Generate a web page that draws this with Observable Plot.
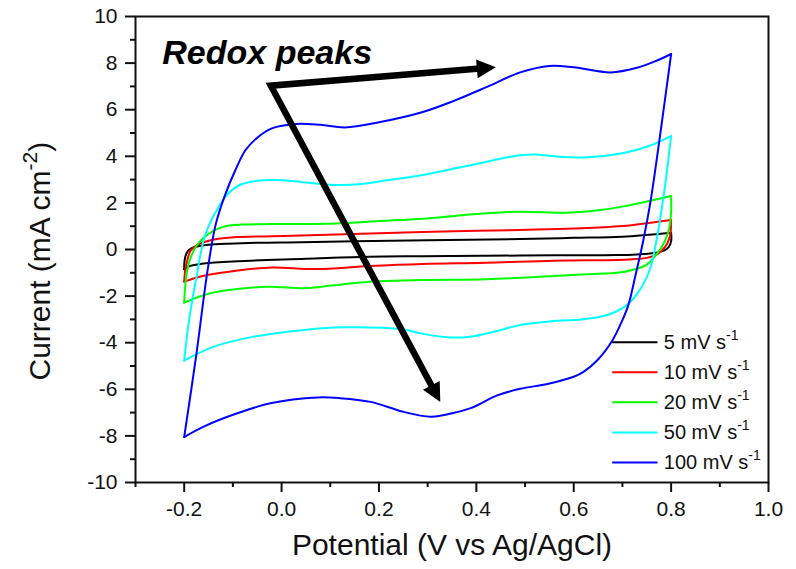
<!DOCTYPE html>
<html><head><meta charset="utf-8">
<script src="https://cdn.jsdelivr.net/npm/d3@7"></script>
<script src="https://cdn.jsdelivr.net/npm/@observablehq/plot@0.6"></script>
<style>body{margin:0;background:#fff}</style>
</head><body><div id="chart"></div>
<script>
// ---- data (potential V, current mA cm^-2) ----
const scanRates = ["5 mV s^-1", "10 mV s^-1", "20 mV s^-1", "50 mV s^-1", "100 mV s^-1"];
const colors = ["#000000", "#ff0000", "#00ff00", "#00ffff", "#0000ff"];

const fwd5 = [[-0.2,-0.85],[-0.199,-0.45],[-0.195,-0.15],[-0.188,0.02],[-0.173,0.13],[-0.15,0.2],[-0.11,0.25],[-0.05,0.29],[0.04,0.31],[0.15,0.35],[0.3,0.4],[0.49,0.45],[0.6,0.5],[0.7,0.55],[0.8,0.72]];
const rev5 = [[0.8,0.72],[0.8,0.35],[0.795,0.1],[0.785,-0.05],[0.765,-0.15],[0.73,-0.21],[0.69,-0.24],[0.56,-0.25],[0.42,-0.27],[0.29,-0.29],[0.18,-0.31],[0.05,-0.4],[-0.09,-0.5],[-0.16,-0.6],[-0.19,-0.72],[-0.2,-0.85]];

const fwd10 = [[-0.2,-1.38],[-0.198,-0.9],[-0.194,-0.5],[-0.187,-0.05],[-0.175,0.17],[-0.155,0.34],[-0.13,0.46],[-0.098,0.53],[-0.02,0.57],[0.04,0.6],[0.2,0.7],[0.31,0.76],[0.49,0.84],[0.6,0.9],[0.7,1.01],[0.8,1.27]];
const rev10 = [[0.8,1.27],[0.799,0.75],[0.795,0.4],[0.788,0.12],[0.772,-0.2],[0.75,-0.36],[0.72,-0.42],[0.69,-0.45],[0.56,-0.48],[0.42,-0.57],[0.29,-0.62],[0.18,-0.71],[0.07,-0.84],[-0.02,-0.77],[-0.09,-0.9],[-0.16,-1.13],[-0.2,-1.38]];

const fwd20 = [[-0.2,-2.28],[-0.198,-1.6],[-0.194,-0.9],[-0.186,-0.3],[-0.175,0.15],[-0.16,0.5],[-0.14,0.8],[-0.115,1.0],[-0.08,1.07],[-0.02,1.09],[0.11,1.12],[0.2,1.22],[0.29,1.32],[0.36,1.45],[0.42,1.56],[0.49,1.62],[0.59,1.58],[0.65,1.68],[0.7,1.84],[0.8,2.3]];
const rev20 = [[0.8,2.3],[0.8,1.6],[0.796,0.9],[0.786,0.3],[0.772,-0.16],[0.75,-0.65],[0.72,-0.88],[0.69,-1.0],[0.63,-1.06],[0.56,-1.14],[0.42,-1.28],[0.29,-1.31],[0.18,-1.38],[0.1,-1.55],[0.05,-1.66],[-0.03,-1.6],[-0.1,-1.72],[-0.15,-1.9],[-0.2,-2.28]];

const fwd50 = [[-0.2,-4.77],[-0.19,-3.03],[-0.175,-1.2],[-0.16,0.41],[-0.148,1.1],[-0.13,1.8],[-0.112,2.35],[-0.085,2.78],[-0.05,2.95],[-0.01,2.98],[0.04,2.9],[0.1,2.78],[0.16,2.8],[0.22,2.98],[0.29,3.2],[0.39,3.63],[0.49,4.05],[0.52,4.08],[0.57,3.98],[0.63,3.96],[0.7,4.13],[0.75,4.41],[0.8,4.87]];
const rev50 = [[0.8,4.87],[0.786,2.5],[0.77,0.4],[0.756,-0.88],[0.731,-1.88],[0.704,-2.46],[0.669,-2.81],[0.615,-3.0],[0.56,-3.07],[0.49,-3.24],[0.436,-3.53],[0.388,-3.74],[0.341,-3.77],[0.286,-3.6],[0.25,-3.43],[0.128,-3.34],[0.046,-3.45],[-0.057,-3.74],[-0.139,-4.17],[-0.2,-4.77]];

const fwd100 = [[-0.2,-8.05],[-0.175,-4.5],[-0.152,-0.9],[-0.135,1.1],[-0.115,2.4],[-0.095,3.4],[-0.074,4.27],[-0.05,4.8],[-0.02,5.2],[0.03,5.39],[0.08,5.35],[0.13,5.24],[0.2,5.46],[0.29,5.9],[0.354,6.38],[0.423,6.99],[0.49,7.6],[0.55,7.88],[0.6,7.82],[0.676,7.6],[0.73,7.8],[0.77,8.1],[0.8,8.39]];
const rev100 = [[0.8,8.39],[0.778,5.0],[0.758,2.1],[0.742,0.3],[0.728,-1.0],[0.712,-2.4],[0.697,-3.17],[0.68,-3.88],[0.649,-4.74],[0.62,-5.25],[0.6,-5.46],[0.546,-5.77],[0.49,-5.98],[0.443,-6.26],[0.388,-6.81],[0.334,-7.1],[0.306,-7.18],[0.251,-6.97],[0.183,-6.54],[0.12,-6.38],[0.073,-6.35],[-0.023,-6.6],[-0.091,-7.03],[-0.16,-7.6],[-0.2,-8.05]];

const forwardScans = [fwd5, fwd10, fwd20, fwd50, fwd100];
const reverseScans = [rev5, rev10, rev20, rev50, rev100];

const xMajor = [-0.2, 0, 0.2, 0.4, 0.6, 0.8, 1.0];
const xMinor = [-0.3, -0.1, 0.1, 0.3, 0.5, 0.7, 0.9];
const yMajor = [-10, -8, -6, -4, -2, 0, 2, 4, 6, 8, 10];
const yMinor = [-9, -7, -5, -3, -1, 1, 3, 5, 7, 9];

const xTitle = "Potential (V vs Ag/AgCl)";
const yTitle = "Current (mA cm^-2)";
const annotation = {text: "Redox peaks", E: -0.245, I: 8.43};
const arrowOrigin = [-0.022, 7.03];
const arrowTips = [[0.44, 7.82], [0.326, -6.55]];

// ---- layout ----
const W = 796, H = 569, ML = 135, MR = 28, MT = 16, MB = 87;
const xDomain = [-0.3, 1.0], yDomain = [-10, 10];
const kx = (W - ML - MR) / (xDomain[1] - xDomain[0]);
const ky = (H - MT - MB) / (yDomain[1] - yDomain[0]);
const headLen = 19, headWid = 19, shaftTrim = 10;

// ---- build tables ----
const rows = [];
scanRates.forEach((rate, i) => {
  [["f", forwardScans[i]], ["r", reverseScans[i]]].forEach(([b, pts]) => {
    pts.forEach(([E, I]) => rows.push({rate, key: rate + b, E, I}));
  });
});

const heads = arrowTips.map(([E, I]) => {
  const dx = (E - arrowOrigin[0]) * kx, dy = -(I - arrowOrigin[1]) * ky;
  const len = Math.hypot(dx, dy);
  return {
    E, I,
    angle: Math.atan2(dx, -dy) * 180 / Math.PI,
    tE: E - dx / len * shaftTrim / kx,
    tI: I + dy / len * shaftTrim / ky
  };
});
const shaft = [
  {E: heads[0].tE, I: heads[0].tI},
  {E: arrowOrigin[0], I: arrowOrigin[1]},
  {E: heads[1].tE, I: heads[1].tI}
];
const arrowHead = {draw(ctx) {
  ctx.moveTo(0, 0); ctx.lineTo(-headWid / 2, headLen); ctx.lineTo(headWid / 2, headLen); ctx.closePath();
}};

const legendRows = scanRates.map((rate, i) => ({rate, y: -3.98 - i * 1.29}));
const legendX1 = 0.68, legendX2 = 0.773, legendTextX = 0.785;

const chart = Plot.plot({
  width: W, height: H, marginLeft: ML, marginRight: MR, marginTop: MT, marginBottom: MB,
  x: {domain: xDomain, axis: null},
  y: {domain: yDomain, axis: null},
  color: {domain: scanRates, range: colors},
  style: {fontFamily: "'Liberation Sans', Arial, sans-serif", background: "#fff", color: "#111"},
  marks: [
    Plot.line(rows, {x: "E", y: "I", z: "key", stroke: "rate", strokeWidth: 2, curve: "catmull-rom", strokeLinecap: "round", strokeLinejoin: "round"}),
    Plot.line(shaft, {x: "E", y: "I", stroke: "#000", strokeWidth: 6.5, strokeLinejoin: "miter", strokeMiterlimit: 10}),
    Plot.dot(heads, {x: "E", y: "I", rotate: "angle", symbol: arrowHead, fill: "#000", r: 8}),
    Plot.text([annotation], {x: "E", y: "I", text: "text", textAnchor: "start", fontSize: 34, fontWeight: "bold", fontStyle: "italic", fill: "#000"}),
    Plot.ruleY(legendRows, {y: "y", x1: legendX1, x2: legendX2, stroke: "rate", strokeWidth: 2}),
    Plot.text(legendRows, {x: legendTextX, y: "y", text: "rate", textAnchor: "start", fontSize: 20, fill: "#111"}),
    Plot.axisY(yMajor, {tickSize: 10, tickPadding: 8, fontSize: 21, tickFormat: d => String(d), label: null, strokeWidth: 2, color: "#111"}),
    Plot.axisY(yMinor, {tickSize: 5, tickFormat: () => "", label: null, strokeWidth: 2, color: "#111"}),
    Plot.axisX(xMajor, {tickSize: 10, tickPadding: 9, fontSize: 21, tickFormat: d => d.toFixed(1), label: null, strokeWidth: 2, color: "#111"}),
    Plot.axisX(xMinor, {tickSize: 5, tickFormat: () => "", label: null, strokeWidth: 2, color: "#111"}),
    Plot.frame({stroke: "#111", strokeWidth: 2}),
    Plot.text([xTitle], {frameAnchor: "bottom", dy: 72, fontSize: 30, fill: "#111"}),
    Plot.text([yTitle], {frameAnchor: "left", textAnchor: "start", dx: -95, dy: 131, rotate: -90, fontSize: 30, fill: "#111"})
  ]
});

// superscripts written as "^n" become raised tspans
d3.select(chart).selectAll("text").each(function () {
  const m = this.textContent.match(/^(.*)\^(-?\d+)(.*)$/);
  if (!m) return;
  const t = d3.select(this);
  t.text(null);
  t.append("tspan").text(m[1]);
  t.append("tspan").attr("font-size", "0.7em").attr("dy", "-0.62em").text(m[2]);
  if (m[3]) t.append("tspan").attr("dy", "0.434em").text(m[3]);
});

document.getElementById("chart").appendChild(chart);
</script></body></html>
